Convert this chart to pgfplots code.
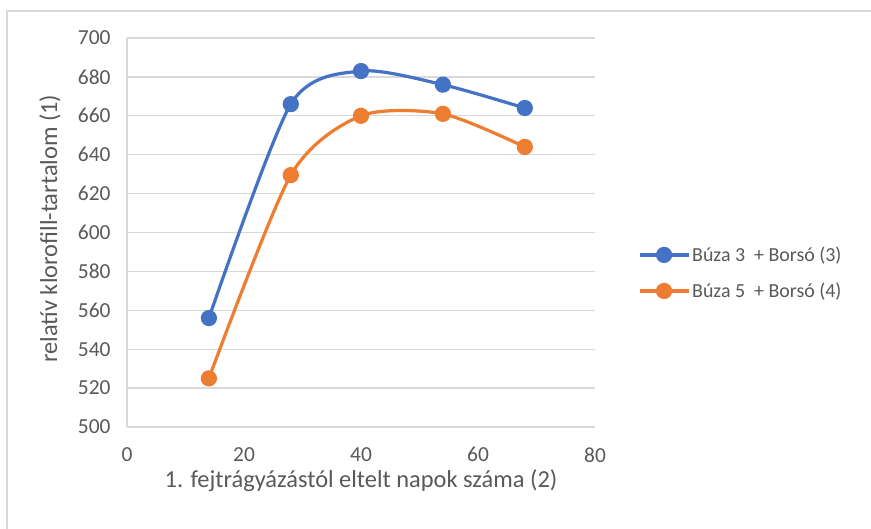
\documentclass[border=0pt]{standalone}
\usepackage{fontspec}
\setmainfont{Carlito}
\usepackage{pgfplots}
\pgfplotsset{compat=1.18}

\definecolor{xlblue}{HTML}{4472C4}
\definecolor{xlorange}{HTML}{ED7D31}
\definecolor{xlgrid}{HTML}{D9D9D9}
\definecolor{xltext}{HTML}{595959}

\begin{document}
\begin{tikzpicture}
\fill[white] (0,0) rectangle (871bp,529bp);
\useasboundingbox (0,0) rectangle (871bp,529bp);
\draw[xlgrid, line width=1.5bp] (7bp,0) -- (7bp,518bp) -- (871bp,518bp);
\begin{axis}[
    at={(127bp,102bp)}, anchor=south west,
    scale only axis,
    width=468bp, height=389bp,
    xmin=0, xmax=80, ymin=500, ymax=700,
    xtick={0,20,...,80},
    ytick={500,520,...,700},
    major tick length=0pt,
    axis x line*=bottom, axis y line*=left,
    axis line style={xlgrid, line width=1.3bp},
    ymajorgrids,
    grid style={xlgrid, line width=1.3bp},
    /pgf/number format/assume math mode=true,
    ticklabel style={font=\fontsize{21.5}{26}\selectfont, text=xltext},
    xticklabel style={yshift=-17bp},
    yticklabel style={xshift=-13bp},
    xlabel={1. fejtrágyázástól eltelt napok száma (2)},
    ylabel={relatív klorofill-tartalom (1)},
    label style={font=\fontsize{24.5}{29}\selectfont, text=xltext, inner sep=0pt},
    every axis x label/.append style={at={(axis description cs:0.5,-0.137)}, anchor=center},
    every axis y label/.append style={at={(axis description cs:-0.165,0.51)}, anchor=center},
    legend style={draw=none, fill=none, at={(1.085,0.396)}, anchor=west,
        font=\fontsize{20}{24}\selectfont, text=xltext, row sep=16bp},
    legend cell align=left,
    legend image code/.code={\draw[#1, mark repeat=2, mark phase=2]
        plot coordinates {(0bp,0bp) (24.5bp,0bp) (49bp,0bp)};},
    every axis plot/.append style={line width=3.2bp, mark=*, mark size=6.5bp, smooth, tension=0.45},
]
\addplot[xlblue, mark options={fill=xlblue, draw=xlblue}] coordinates {
    (14,556) (28,666) (40,683) (54,676) (68,664)
};
\addlegendentry{Búza 3\ \ + Borsó (3)}
\addplot[xlorange, mark options={fill=xlorange, draw=xlorange}] coordinates {
    (14,525) (28,629.5) (40,660) (54,661) (68,644)
};
\addlegendentry{Búza 5\ \ + Borsó (4)}
\end{axis}
\end{tikzpicture}
\end{document}
